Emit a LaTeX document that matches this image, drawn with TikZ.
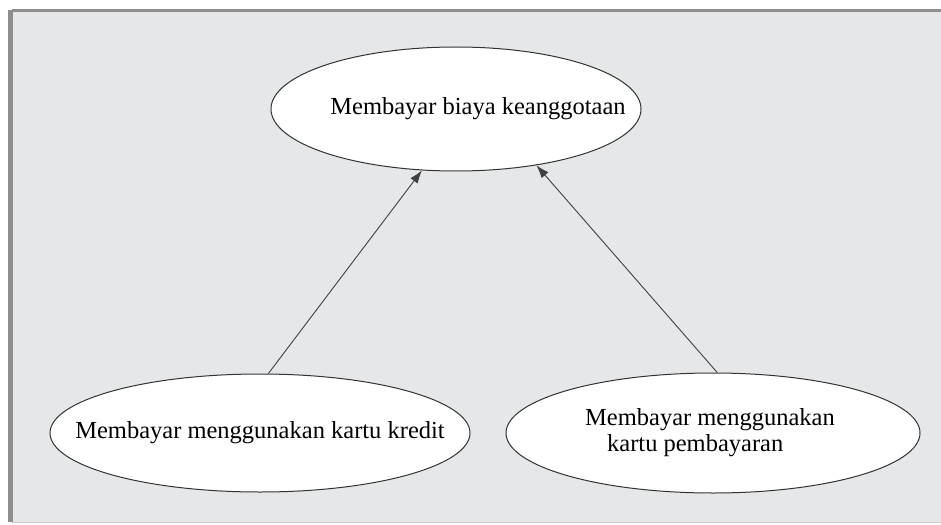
\documentclass[tikz,border=0pt]{standalone}
\usepackage{fontspec}
\setmainfont{Liberation Serif}
\usetikzlibrary{shapes.geometric,arrows.meta}
\definecolor{bgc}{HTML}{E6E7E9}
\definecolor{framec}{HTML}{8E8E8E}
\tikzset{
  uc/.style={ellipse,draw=black!80,line width=1pt,fill=white,inner sep=0pt,font=\fontsize{24.5}{26}\selectfont},
  link/.style={draw=black!75,line width=0.9pt,-{Latex[length=13pt,width=9pt]}}
}
\begin{document}
\begin{tikzpicture}[x=1pt,y=-1pt]
\useasboundingbox (0,0) rectangle (941,524);
\fill[white] (0,0) rectangle (941,524);
\fill[bgc] (12,12) rectangle (941,522);
\draw[framec,line width=2.5pt] (12,10.5) -- (941,10.5);
\draw[framec,line width=4.5pt] (10.5,10) -- (10.5,522);
\draw[black!20,line width=1pt] (12,522) -- (941,522);
\node[uc,minimum width=370pt,minimum height=124pt] (top) at (456,109)
  {\makebox[0pt]{\hspace*{44pt}\raisebox{4pt}{Membayar biaya keanggotaan}}};
\node[uc,minimum width=420pt,minimum height=118pt] (kk) at (260,433)
  {\makebox[0pt]{Membayar menggunakan kartu kredit}};
\node[uc,minimum width=414pt,minimum height=120pt] (kp) at (713,433)
  {\makebox[0pt]{\hspace*{-6pt}\begin{tabular}{@{}l@{}}Membayar menggunakan\\\hspace*{22pt}kartu pembayaran\end{tabular}}};
\draw[link] (kk.82) -- (top.241);
\draw[link] (kp.86) -- (top.325);
\end{tikzpicture}
\end{document}
